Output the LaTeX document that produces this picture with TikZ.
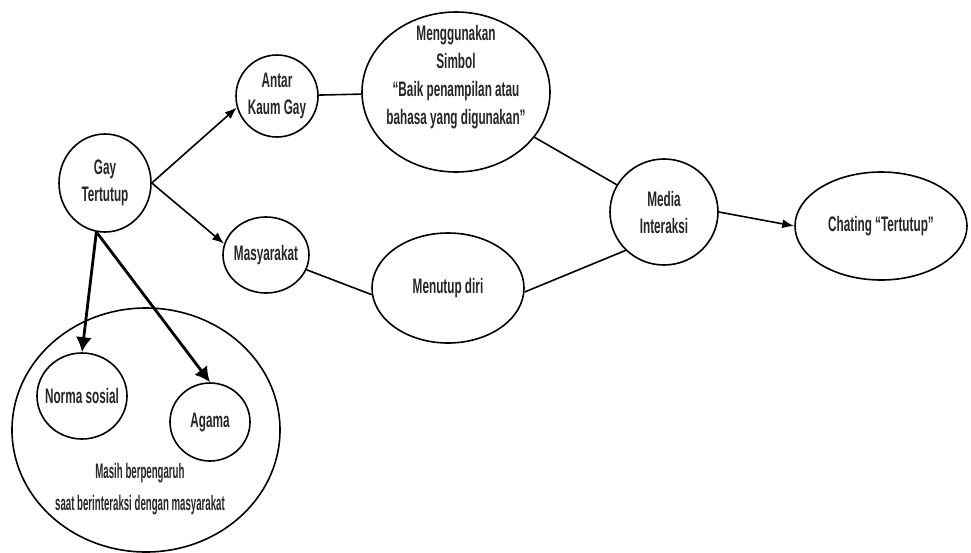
\documentclass[tikz,border=0pt]{standalone}
\usepackage{fontspec}
\newfontfamily\diagfont[FakeStretch=0.56]{Liberation Sans}
\newfontfamily\diagnarrowfont[FakeStretch=0.46]{Liberation Sans}
\usetikzlibrary{arrows.meta}
\usetikzlibrary{shapes.geometric}

\begin{document}
\begin{tikzpicture}[x=1pt, y=-1pt,
	bubble/.style={ellipse, draw, line width=1.6pt, inner sep=0pt, align=center, text=black!85, font=\diagfont\bfseries\fontsize{21}{27}\selectfont},
	caption/.style={inner sep=0pt, align=center, text=black!85, font=\diagfont\bfseries\fontsize{21}{28}\selectfont},
	link/.style={line width=1.6pt},
	flow/.style={line width=1.6pt, -{Latex[length=12pt, width=9pt]}},
	heavy/.style={line width=2.8pt, -{Latex[length=15pt, width=16pt]}}]
			\useasboundingbox (0,0) rectangle (971,552);
			% nodes
			\node[bubble, minimum width=92pt, minimum height=98pt] (gay) at (105,183) {Gay\\Tertutup};
			\node[bubble, minimum width=82pt, minimum height=82pt, inner xsep=-3pt] (antar) at (277,96) {Antar\\Kaum Gay};
			\node[bubble, minimum width=188pt, minimum height=160pt] (meng) at (456,92) {};
			\node[caption] (mengtxt) at (456,77) {Menggunakan\\Simbol\\“Baik penampilan atau\\bahasa yang digunakan”};
			\node[bubble, minimum width=86pt, minimum height=76pt, inner xsep=-4pt] (masy) at (266,255) {Masyarakat};
			\node[bubble, minimum width=152pt, minimum height=110pt] (menutup) at (448,288) {Menutup diri};
			\node[bubble, minimum width=108pt, minimum height=106pt] (media) at (664,212) {Media\\Interaksi};
			\node[bubble, minimum width=172pt, minimum height=108pt] (chat) at (881,226) {Chating “Tertutup”};
			\node[bubble, minimum width=268pt, minimum height=244pt] (pengaruh) at (146,430) {};
			\node[bubble, minimum width=90pt, minimum height=86pt, inner xsep=-10pt] (norma) at (82,396) {Norma sosial};
			\node[bubble, minimum width=80pt, minimum height=78pt] (agama) at (210,422) {Agama};
			\node[caption, font=\diagnarrowfont\bfseries\fontsize{21}{32}\selectfont] (pengaruhtxt) at (140,489) {Masih berpengaruh\\saat berinteraksi dengan masyarakat};
			% connectors
			\draw[flow] (gay.east) -- (antar.196);
			\draw[flow] (gay.east) -- (masy.165);
			\draw[heavy] (gay.260) -- (norma.north);
			\draw[heavy] (gay.260) -- (agama.north);
			\foreach \from/\to in {antar/meng, meng/media, masy.-20/menutup.185, menutup.-3/media.225}
			{
				\draw[link] (\from) -- (\to);
			}
			\draw[flow] (media.east) -- (chat.west);
		\end{tikzpicture}
\end{document}
